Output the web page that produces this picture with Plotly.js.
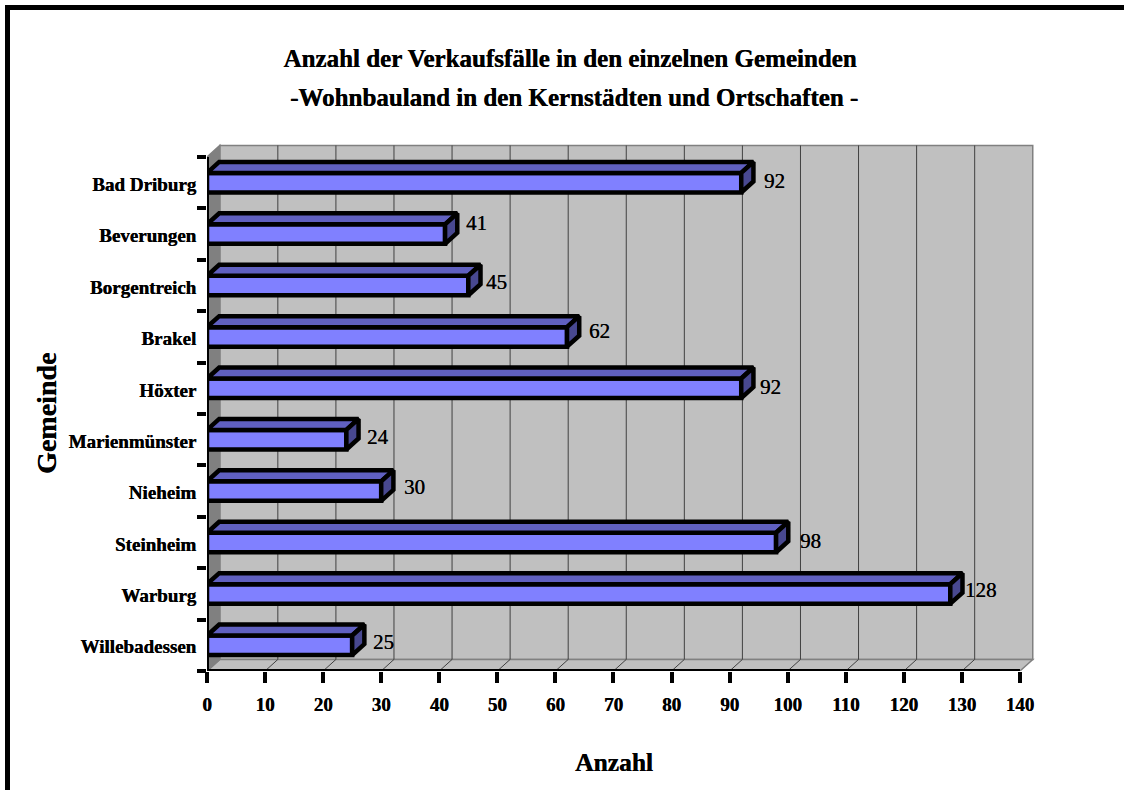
<!DOCTYPE html>
<html><head><meta charset="utf-8">
<script src="https://cdn.plot.ly/plotly-3.0.1.min.js"></script>
<style>
html,body{margin:0;padding:0;background:#fff;overflow:hidden}
#frame{position:absolute;left:5px;top:5px;width:1119px;height:785px;border-left:5px solid #000;border-top:5px solid #000;box-sizing:border-box;pointer-events:none;z-index:5}
#chart{position:absolute;left:0;top:0;width:1124px;height:790px}
</style></head><body>
<div id="chart"></div><div id="frame"></div>
<script>
const categories = ["Bad Driburg","Beverungen","Borgentreich","Brakel","Höxter","Marienmünster","Nieheim","Steinheim","Warburg","Willebadessen"];
const counts = [92,41,45,62,92,24,30,98,128,25];
const xTicks = [0,10,20,30,40,50,60,70,80,90,100,110,120,130,140];
const titleLine1 = "Anzahl der Verkaufsfälle in den einzelnen Gemeinden";
const titleLine2 = "-Wohnbauland in den Kernstädten und Ortschaften -";
const xTitle = "Anzahl", yTitle = "Gemeinde";

// data-label nudges (px) relative to the bar end, as placed by hand in the source chart
const labelShiftX = [33,31,28,32,29,32,33,34,31,31];
const labelShiftY = [2,11,4,6,1,3,4,2,4,3];

const FONT = "'Liberation Serif','Times New Roman',serif";
const HEAVY = "0.4px 0 0 #000";
const xMax = 140;
const depthX = 2.2, depthY = 0.225;
const barDepthX = 2.1, barDepthY = 0.214, barH = 0.38, barLine = 4.5;
const n = categories.length;
const idx = categories.map((_, i) => i);
const yEdges = [...Array(n + 1).keys()].map(i => i - 0.5);
const yBot = n - 0.5, yTop = -0.5;

const poly = pts => "M" + pts.map(p => p.join(",")).join("L") + "Z";
const line = pts => "M" + pts.map(p => p.join(",")).join("L");
const wallShape = (pts, fill) => ({type:"path", layer:"below", xref:"x", yref:"y", path:poly(pts), fillcolor:fill,
  line:{color:"#808080", width:1.5}});

const shapes = [
  wallShape([[depthX,yTop-depthY],[xMax+depthX,yTop-depthY],[xMax+depthX,yBot-depthY],[depthX,yBot-depthY]], "#c0c0c0"),
  wallShape([[0,yBot],[depthX,yBot-depthY],[xMax+depthX,yBot-depthY],[xMax,yBot]], "#c0c0c0"),
  wallShape([[0,yTop],[depthX,yTop-depthY],[depthX,yBot-depthY],[0,yBot]], "#808080"),
];
xTicks.filter(v => v > 0 && v < xMax).forEach(v => {
  shapes.push({type:"path", layer:"below", xref:"x", yref:"y",
    path:line([[v,yBot],[v+depthX,yBot-depthY],[v+depthX,yTop-depthY]]),
    line:{color:"#404040", width:1}});
});

const traces = [];
traces.push({type:"bar", orientation:"h", y:idx, x:counts, width:barH, base:0,
  marker:{color:"#8080ff", line:{color:"#000", width:barLine}}, hoverinfo:"x+y", showlegend:false, xaxis:"x", yaxis:"y"});
counts.forEach((v,i) => {
  const t = i - barH/2, b = i + barH/2;
  traces.push({type:"scatter", mode:"lines", showlegend:false, hoverinfo:"skip", cliponaxis:false,
    x:[0,barDepthX,v+barDepthX,v,0], y:[t,t-barDepthY,t-barDepthY,t,t], fill:"toself", fillcolor:"#6060c0",
    line:{color:"#000",width:barLine,simplify:false}});
  traces.push({type:"scatter", mode:"lines", showlegend:false, hoverinfo:"skip", cliponaxis:false,
    x:[v,v+barDepthX,v+barDepthX,v,v], y:[t,t-barDepthY,b-barDepthY,b,t], fill:"toself", fillcolor:"#484890",
    line:{color:"#000",width:barLine,simplify:false}});
});
// axis lines stop at the front plane of the box
traces.push({type:"scatter", mode:"lines", showlegend:false, hoverinfo:"skip", cliponaxis:false,
  x:[0,0,xMax], y:[yTop,yBot,yBot], line:{color:"#000",width:4,simplify:false}});
// second y axis carries only the band-edge tick marks
traces.push({type:"scatter", mode:"markers", x:[0], y:[0], yaxis:"y2", marker:{opacity:0}, showlegend:false, hoverinfo:"skip"});

const annotations = counts.map((v,i) => ({x:v, y:i, xref:"x", yref:"y", text:String(v), showarrow:false,
  xshift:labelShiftX[i], yshift:labelShiftY[i], font:{family:FONT, size:21, color:"#000", shadow:"0.3px 0 0 #000"}}));
const heading = {family:FONT, size:25, color:"#000", weight:700, shadow:HEAVY};
annotations.push({xref:"paper", yref:"paper", x:(574-207)/829, y:(671-97)/529, xanchor:"center", yanchor:"middle", text:titleLine2, showarrow:false,
  font:heading});
annotations.push({xref:"paper", yref:"paper", x:(614-207)/829, y:(671-762)/529, xanchor:"center", yanchor:"middle", text:xTitle, showarrow:false,
  font:{...heading, size:25.5}});
annotations.push({xref:"paper", yref:"paper", x:(46-207)/829, y:(671-414)/529, xanchor:"center", yanchor:"middle", text:yTitle, textangle:-90, showarrow:false,
  font:{...heading, size:28}});

const tickFont = {family:FONT, size:19, color:"#000", weight:700, shadow:HEAVY};
const layout = {
  width:1124, height:790, paper_bgcolor:"rgba(0,0,0,0)", plot_bgcolor:"rgba(0,0,0,0)", showlegend:false,
  margin:{l:207, r:88, t:142, b:119, pad:0},
  title:{text:titleLine1, xref:"paper", yref:"container", x:(570-207)/829, xanchor:"center", y:1-58/790, yanchor:"middle",
    font:heading},
  xaxis:{range:[0,142.76], tickmode:"array", tickvals:xTicks, ticktext:xTicks.map(String), showgrid:false, zeroline:false, showline:false,
    ticks:"outside", ticklen:11, tickwidth:4, tickcolor:"#000", tickangle:0, ticklabelstandoff:5,
    tickfont:tickFont},
  yaxis:{range:[yBot,-0.792], tickmode:"array", tickvals:idx.map(i => i + 0.03), ticktext:categories, showgrid:false, zeroline:false, showline:false,
    ticks:"outside", ticklen:6, tickwidth:0, tickcolor:"rgba(0,0,0,0)",
    tickfont:tickFont},
  yaxis2:{overlaying:"y", side:"left", anchor:"x", range:[yBot,-0.792], tickmode:"array", tickvals:yEdges, ticktext:yEdges.map(()=>""),
    showgrid:false, zeroline:false, showline:false, ticks:"outside", ticklen:9, tickwidth:3.5, tickcolor:"#000"},
  shapes, annotations
};
Plotly.newPlot("chart", traces, layout, {displayModeBar:false, responsive:false});
</script></body></html>
